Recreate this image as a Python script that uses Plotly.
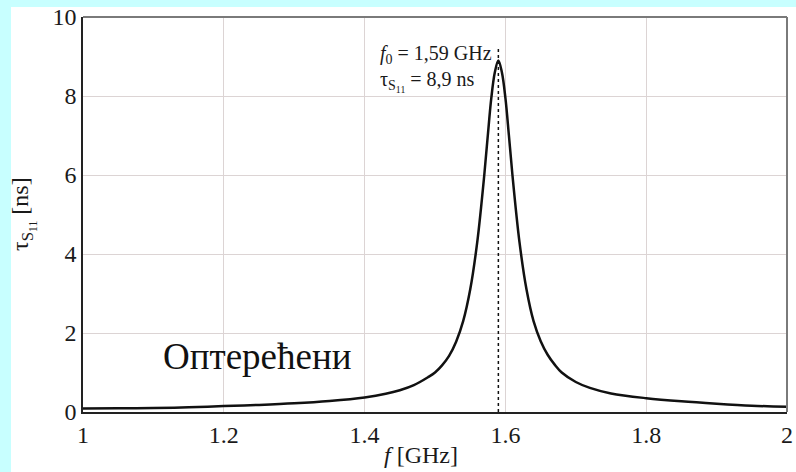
import plotly.graph_objects as go

# Frequency (GHz) and group delay tau_S11 (ns)
freq = [1.00, 1.05, 1.10, 1.15, 1.20, 1.25, 1.30, 1.35, 1.40, 1.43, 1.45, 1.47,
        1.49, 1.50, 1.51, 1.52, 1.53, 1.54, 1.55, 1.56, 1.57, 1.575, 1.58, 1.585,
        1.59, 1.595, 1.60, 1.605, 1.61, 1.62, 1.63, 1.64, 1.65, 1.66, 1.67, 1.68,
        1.70, 1.72, 1.75, 1.80, 1.85, 1.90, 1.95, 2.00]
tau = [0.09, 0.095, 0.10, 0.12, 0.15, 0.18, 0.22, 0.28, 0.37, 0.46, 0.55, 0.68,
       0.88, 1.00, 1.18, 1.42, 1.78, 2.30, 3.10, 4.30, 6.00, 7.00, 7.95, 8.60,
       8.90, 8.60, 7.95, 7.00, 6.00, 4.30, 3.10, 2.30, 1.80, 1.45, 1.20, 1.00,
       0.76, 0.61, 0.47, 0.35, 0.27, 0.21, 0.16, 0.13]

f0 = 1.59
tau_peak = 8.9
marker_top = 9.2

x_ticks = [1, 1.2, 1.4, 1.6, 1.8, 2]
y_ticks = [0, 2, 4, 6, 8, 10]

FONT = "Liberation Serif, Times New Roman, serif"

fig = go.Figure()
fig.add_trace(go.Scatter(x=[f0, f0], y=[0, marker_top], mode="lines",
                         line=dict(color="#111111", width=1.5, dash="dot"),
                         hoverinfo="skip", showlegend=False))
fig.add_trace(go.Scatter(x=freq, y=tau, mode="lines", line_shape="spline",
                         line=dict(color="#111111", width=2.5), showlegend=False))

W, H = 796, 472
L, R, T, B = 83, 9, 17, 60
pw, ph = W - L - R, H - T - B

def px_to_paper_x(px):
    return (px - L) / pw

def py_to_paper_y(py):
    return (H - B - py) / ph

fig.update_layout(
    width=W, height=H,
    margin=dict(l=L, r=R, t=T, b=B, autoexpand=False),
    paper_bgcolor="#c8ffff",
    plot_bgcolor="white",
    font=dict(family=FONT, color="#1a1a1a", size=24),
    shapes=[
        dict(type="rect", xref="paper", yref="paper", layer="below",
             x0=px_to_paper_x(11), x1=px_to_paper_x(800),
             y0=py_to_paper_y(480), y1=py_to_paper_y(7),
             fillcolor="white", line=dict(width=0)),
        dict(type="line", xref="paper", yref="paper", x0=0, x1=1, y0=1, y1=1,
             line=dict(color="#7a7a7a", width=2)),
        dict(type="line", xref="paper", yref="paper", x0=1, x1=1, y0=0, y1=1,
             line=dict(color="#7a7a7a", width=2)),
    ],
    annotations=[
        dict(x=f0, y=py_to_paper_y(40), xref="x", yref="paper", xanchor="right",
             yanchor="top", xshift=-4, showarrow=False, align="left",
             text="<i>f</i><sub>0</sub> = 1,59 GHz<br>τ<sub>S<sub>11</sub></sub> = 8,9 ns",
             font=dict(size=20, family=FONT, color="#1a1a1a")),
        dict(x=1.111, y=1.4, xref="x", yref="y", xanchor="left", yanchor="middle",
             showarrow=False, text="Оптерећени",
             font=dict(size=37, family=FONT, color="#111111")),
        dict(x=0.5 - 0.02, y=py_to_paper_y(455), xref="paper", yref="paper",
             xanchor="center", yanchor="middle", showarrow=False,
             text="<i>f</i> [GHz]", font=dict(size=24, family=FONT, color="#1a1a1a")),
        dict(x=px_to_paper_x(23), y=py_to_paper_y(214), xref="paper", yref="paper",
             xanchor="center", yanchor="middle", showarrow=False, textangle=-90,
             text="τ<sub>S<sub>11</sub></sub> [ns]",
             font=dict(size=24, family=FONT, color="#1a1a1a")),
    ],
)

fig.update_xaxes(range=[1, 2], tickvals=x_ticks, ticktext=[str(v) for v in x_ticks],
                 showgrid=True, gridcolor="#dcd4d4", gridwidth=1,
                 showline=True, linecolor="#222222", linewidth=1.5,
                 ticks="", zeroline=False, automargin=False,
                 tickfont=dict(size=24, family=FONT))
fig.update_yaxes(range=[0, 10], tickvals=y_ticks,
                 showgrid=True, gridcolor="#dcd4d4", gridwidth=1,
                 showline=True, linecolor="#222222", linewidth=1.5,
                 ticks="", zeroline=False, automargin=False,
                 tickfont=dict(size=24, family=FONT))

fig.write_html("out.html", config={"displayModeBar": False},
               post_script="document.body.style.margin='0';document.body.style.overflow='hidden';")
